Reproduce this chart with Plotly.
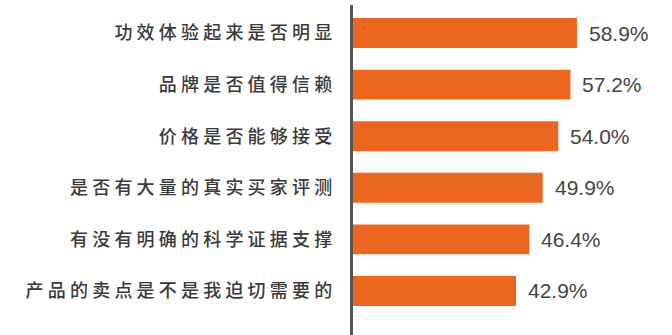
import plotly.graph_objects as go

categories = [
    "功效体验起来是否明显",
    "品牌是否值得信赖",
    "价格是否能够接受",
    "是否有大量的真实买家评测",
    "有没有明确的科学证据支撑",
    "产品的卖点是不是我迫切需要的",
]
values = [58.9, 57.2, 54.0, 49.9, 46.4, 42.9]
value_labels = [f"{v:.1f}%" for v in values]

BAR_COLOR = "#EB661F"
TEXT_COLOR = "#3a3a3a"

tick_text = [f'<span style="letter-spacing:4.2px">{c}</span>' for c in categories]

fig = go.Figure(
    go.Bar(
        x=values,
        y=categories,
        orientation="h",
        marker=dict(color=BAR_COLOR, line=dict(width=0)),
        width=0.58,
        hoverinfo="skip",
    )
)

for c, v, t in zip(categories, values, value_labels):
    fig.add_annotation(
        x=v, y=c, text=t, showarrow=False, xanchor="left", yanchor="middle",
        xshift=10, font=dict(family="Liberation Sans, Arial, sans-serif", size=21, color="#444444"),
    )

fig.update_layout(
    width=672,
    height=335,
    margin=dict(l=353, r=0, t=5, b=0),
    paper_bgcolor="white",
    plot_bgcolor="white",
    showlegend=False,
    xaxis=dict(range=[0, 83.9], visible=False, fixedrange=True),
    yaxis=dict(
        type="category",
        range=[5.853, -0.543],
        tickmode="array",
        tickvals=categories,
        ticktext=tick_text,
        showline=True,
        linecolor="#555555",
        linewidth=3,
        ticks="",
        showgrid=False,
        zeroline=False,
        ticklabelstandoff=10,
        tickfont=dict(family="Noto Sans CJK SC, sans-serif", size=18, color=TEXT_COLOR, weight=500),
        fixedrange=True,
    ),
)

fig.write_html(
    "out.html",
    config={"displayModeBar": False},
    post_script="document.body.style.margin='0';document.body.style.overflow='hidden';",
)
